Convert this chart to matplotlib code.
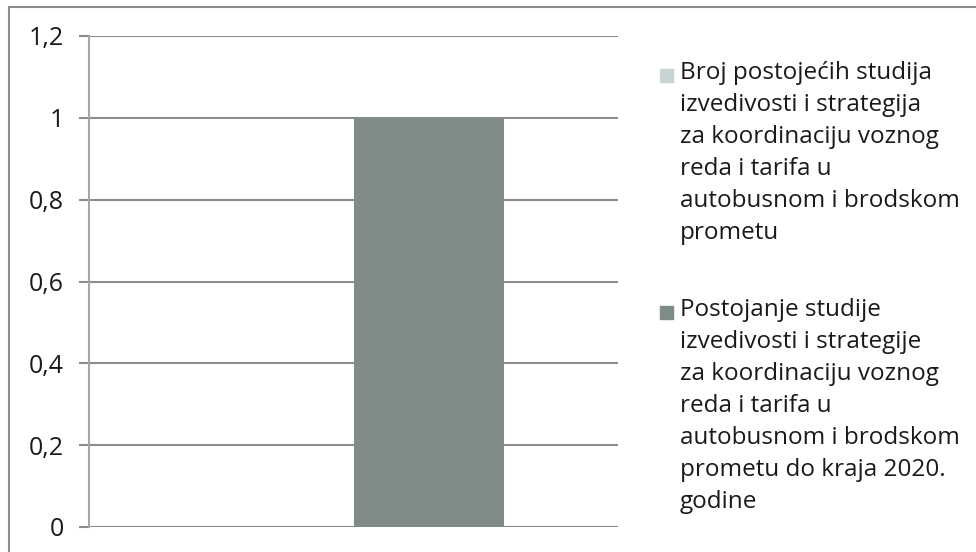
import matplotlib
matplotlib.use("Agg")
import matplotlib.pyplot as plt
from matplotlib.patches import Rectangle
from matplotlib.lines import Line2D
import numpy as np

# ── Podaci ─────────────────────────────────────────────────────────────────
categories = [""]
series_labels = [
    "Broj postojećih studija\nizvedivosti i strategija\nza koordinaciju voznog\nreda i tarifa u\nautobusnom i brodskom\nprometu",
    "Postojanje studije\nizvedivosti i strategije\nza koordinaciju voznog\nreda i tarifa u\nautobusnom i brodskom\nprometu do kraja 2020.\ngodine",
]
series_values = [
    [0],
    [1],
]
series_colors = ["#C8D3D6", "#7E8B89"]
y_ticks = [0, 0.2, 0.4, 0.6, 0.8, 1.0, 1.2]
y_tick_labels = ["0", "0,2", "0,4", "0,6", "0,8", "1", "1,2"]

plt.rcParams["font.family"] = ["Open Sans", "DejaVu Sans"]

fig = plt.figure(figsize=(9.76, 5.52), dpi=100)
ax = fig.add_axes([89 / 976, 1 - 527 / 552, (618 - 89) / 976, (527 - 36) / 552])

# ── Stupci ────────────────────────────────────────────────────────────────
x = np.arange(len(categories))
width = 0.285
for i, (vals, col) in enumerate(zip(series_values, series_colors)):
    offset = (i - len(series_values) / 2 + 0.5) * width
    ax.bar(x + offset, vals, width, color=col, zorder=3)

ax.set_xlim(-0.5, 0.5)
ax.set_ylim(0, 1.2)
ax.set_yticks(y_ticks)
ax.set_yticklabels(y_tick_labels, fontsize=18, color="#1A1A1A")
ax.set_xticks([])
ax.yaxis.grid(True, color="#8C8C8C", linewidth=1.5)
ax.set_axisbelow(True)
ax.tick_params(axis="y", length=7.2, width=1.5, color="#8C8C8C", pad=11)
for s in ["top", "right", "bottom"]:
    ax.spines[s].set_visible(False)
ax.spines["left"].set_color("#A6A6A6")
ax.spines["left"].set_linewidth(1.5)

# ── Legenda (ručno) ───────────────────────────────────────────────────────
leg_y = [75, 312]
for lab, col, ly in zip(series_labels, series_colors, leg_y):
    fig.patches.append(Rectangle((660 / 976, 1 - (ly + 7) / 552), 13 / 976, 13 / 552,
                                 transform=fig.transFigure, color=col))
    fig.text(680 / 976, 1 - (ly - 14) / 552, lab, fontsize=17.5, va="top", ha="left",
             linespacing=1.44, color="#1A1A1A")

# ── Okvir ───────────────────────────────────────────────────────────────
fig.add_artist(Line2D([9 / 976, 1], [1 - 7 / 552, 1 - 7 / 552], transform=fig.transFigure,
                      color="#8C8C8C", linewidth=1.5))
fig.add_artist(Line2D([9 / 976, 9 / 976], [0, 1 - 7 / 552], transform=fig.transFigure,
                      color="#8C8C8C", linewidth=1.5))

fig.savefig("out.png", dpi=100)
